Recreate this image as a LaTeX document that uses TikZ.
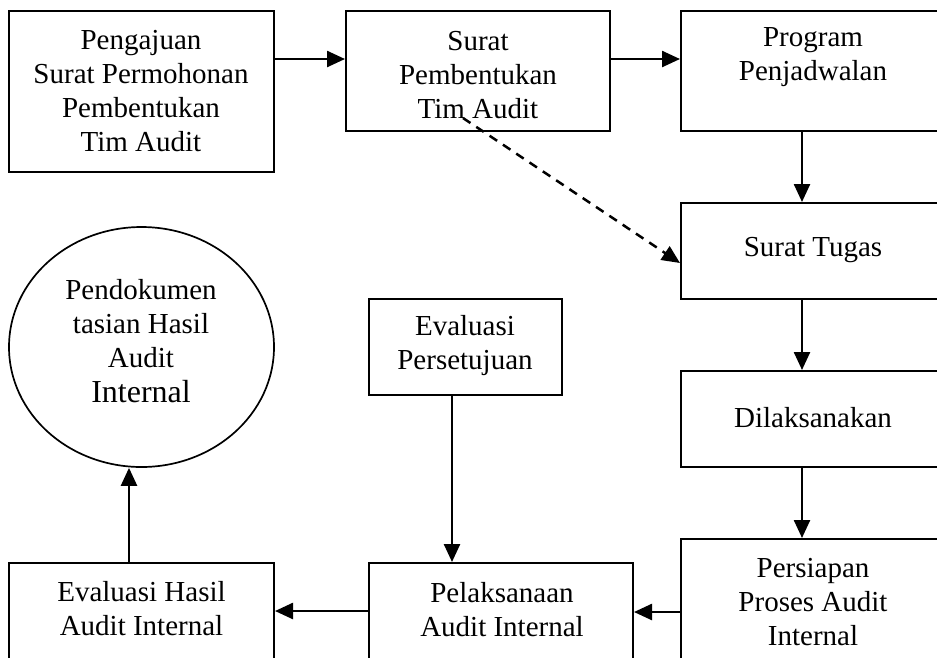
\documentclass[tikz,border=0pt]{standalone}
\usepackage{fontspec}
\setmainfont{Liberation Serif}
\usetikzlibrary{arrows.meta,shapes.geometric}
\begin{document}
\begin{tikzpicture}[x=1pt,y=-1pt,
  box/.style={draw,line width=2pt,rectangle,inner sep=0pt},
  oval/.style={draw,line width=1.7pt,ellipse,inner sep=0pt,minimum width=265pt,minimum height=240pt},
  txt/.style={align=center,inner sep=0pt,font=\fontsize{29}{34}\selectfont},
  arr/.style={line width=2.5pt,-{Triangle[length=18pt,width=16pt]}},
  darr/.style={arr,dash pattern=on 9pt off 7pt}]
\useasboundingbox (0,0) rectangle (937,657);
\clip (0,0) rectangle (937,657);

% process boxes (frames)
\node[box,minimum width=265pt,minimum height=161pt] (b1) at (141.5,91.5) {};
\node[box,minimum width=264pt,minimum height=120pt] (b2) at (478,71) {};
\node[box,minimum width=264pt,minimum height=120pt] (b3) at (813,71) {};
\node[box,minimum width=264pt,minimum height=96pt] (b4) at (813,251) {};
\node[box,minimum width=264pt,minimum height=96pt] (b5) at (813,419) {};
\node[box,minimum width=264pt,minimum height=161pt] (b6) at (813,619.5) {};
\node[box,minimum width=193pt,minimum height=96pt] (ev) at (465.5,347) {};
\node[box,minimum width=264pt,minimum height=137pt] (pl) at (501,631.5) {};
\node[box,minimum width=265pt,minimum height=137pt] (eh) at (141.5,631.5) {};
\node[oval] (circ) at (141.5,347) {};

% box labels
\node[txt] (t1) at (141,91) {Pengajuan\\Surat Permohonan\\Pembentukan\\Tim Audit};
\node[txt] (t2) at (478,75) {Surat\\Pembentukan\\Tim Audit};
\node[txt] (t3) at (813,57) {Program\\Penjadwalan};
\node[txt] (t4) at (813,250) {Surat Tugas};
\node[txt] (t5) at (813,418) {Dilaksanakan};
\node[txt] (t6) at (813,602) {Persiapan\\Proses Audit\\Internal};
\node[txt] (tev) at (465,346) {Evaluasi\\Persetujuan};
\node[txt] (tpl) at (502,610) {Pelaksanaan\\Audit Internal};
\node[txt] (teh) at (141.5,609) {Evaluasi Hasil\\Audit Internal};
\node[txt] (tc) at (141,341) {Pendokumen\\tasian Hasil\\Audit\\[1pt]{\fontsize{32}{36}\selectfont Internal}};

% connector guide points
\coordinate (r1) at (0,59);
\coordinate (cx) at (802,0);
\coordinate (cev) at (452,0);
\coordinate (ceh) at (129,0);
\coordinate (r2) at (0,611);
\coordinate (r3) at (0,612);
\coordinate (ds) at (463,118);
\coordinate (de) at (0,263);

% connectors
\draw[arr] (b1.east |- r1) -- (b2.west |- r1);
\draw[arr] (b2.east |- r1) -- (b3.west |- r1);
\draw[arr] (b3.south -| cx) -- (b4.north -| cx);
\draw[arr] (b4.south -| cx) -- (b5.north -| cx);
\draw[arr] (b5.south -| cx) -- (b6.north -| cx);
\draw[arr] (b6.west |- r3) -- (pl.east |- r3);
\draw[arr] (ev.south -| cev) -- (pl.north -| cev);
\draw[arr] (pl.west |- r2) -- (eh.east |- r2);
\draw[arr] (eh.north -| ceh) -- (circ.south -| ceh);
\draw[darr] (ds) -- (b4.west |- de);
\end{tikzpicture}
\end{document}
